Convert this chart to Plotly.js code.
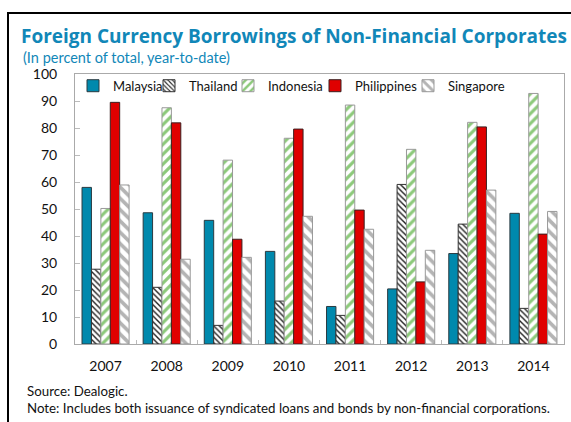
<!DOCTYPE html>
<html>
<head>
<meta charset="utf-8">
<script src="https://cdn.plot.ly/plotly-3.0.1.min.js"></script>
<style>
  html,body{margin:0;padding:0;background:#fff;}
  #chart{width:571px;height:422px;}
  #frame{position:absolute;left:7px;top:12px;width:600px;height:500px;border:2px solid #000;pointer-events:none;}
</style>
</head>
<body>
<div id="chart"></div>
<div id="frame"></div>
<script>
const years = ['2007','2008','2009','2010','2011','2012','2013','2014'];
const malaysia    = [58.0, 48.6, 45.8, 34.3, 13.9, 20.4, 33.5, 48.4];
const thailand    = [27.7, 21.0,  6.9, 15.9, 10.6, 59.1, 44.4, 13.2];
const indonesia   = [50.2, 87.5, 68.1, 76.2, 88.5, 72.1, 82.1, 92.8];
const philippines = [89.5, 81.9, 38.8, 79.6, 49.6, 23.0, 80.4, 40.7];
const singapore   = [58.9, 31.4, 32.1, 47.3, 42.5, 34.7, 57.0, 49.1];
const yTicks = [0,10,20,30,40,50,60,70,80,90,100];

const FONT = 'Lato, "Open Sans", sans-serif';
const TEAL = '#1187b8';

const bar = (name, y, marker, legend) => ({
  type:'bar', name, x:years, y, marker, legend, hoverinfo:'skip'
});

const traces = [
  bar('Malaysia', malaysia,
      {color:'#0089ad', line:{color:'#2a3a40', width:1}}, 'legend'),
  bar('Thailand', thailand,
      {color:'#ffffff', line:{color:'#333', width:1},
       pattern:{shape:'\\', fgcolor:'#222', bgcolor:'#fff', size:4, solidity:0.35}}, 'legend2'),
  bar('Indonesia', indonesia,
      {color:'#ffffff', line:{color:'#999', width:1},
       pattern:{shape:'/', fgcolor:'#8cc97a', bgcolor:'#fff', size:7, solidity:0.45}}, 'legend3'),
  bar('Philippines', philippines,
      {color:'#e00000', line:{color:'#3a2020', width:1}}, 'legend4'),
  bar('Singapore', singapore,
      {color:'#ffffff', line:{color:'#999', width:1},
       pattern:{shape:'\\', fgcolor:'#b4b4b4', bgcolor:'#fff', size:8, solidity:0.45}}, 'legend5')
];

// plot area spans 75..564 px; each legend is placed by its symbol centre
const pxX = px => (px - 75) / 489;
const leg = symCentre => ({
  x:pxX(symCentre - 20), xanchor:'left', y:1.012, yanchor:'top', orientation:'h',
  bgcolor:'rgba(0,0,0,0)', font:{family:FONT, size:13, color:'#111'}
});

const layout = {
  width:571, height:422,
  margin:{l:75, r:7, t:74, b:78},
  paper_bgcolor:'#fff', plot_bgcolor:'#fff',
  font:{family:FONT, size:14, color:'#111'},
  barmode:'group', bargap:0.23, bargroupgap:0,
  title:{text:'<b>Foreign Currency Borrowings of Non-Financial Corporates</b>',
         x:21/571, xanchor:'left', xref:'container',
         y:1-36/422, yanchor:'middle', yref:'container',
         font:{family:'"Open Sans", Lato, sans-serif', size:19, color:TEAL}},
  xaxis:{type:'category', tickson:'boundaries', ticks:'inside', ticklen:4,
         tickcolor:'#bbb', showline:true, linecolor:'#aaa', linewidth:1,
         mirror:true, ticklabelstandoff:9, tickfont:{size:14}},
  yaxis:{range:[0,100], tickvals:yTicks, ticks:'inside', ticklen:5,
         tickcolor:'#bbb', showline:true, linecolor:'#aaa', linewidth:1,
         mirror:true, showgrid:false, zeroline:false, ticklabelstandoff:14,
         tickfont:{size:14}},
  showlegend:true,
  legend:leg(93), legend2:leg(169), legend3:leg(248), legend4:leg(335), legend5:leg(428),
  annotations:[
    {text:'(In percent of total, year-to-date)', xref:'paper', yref:'paper',
     x:pxX(21), y:1+(74-58)/270, xanchor:'left', yanchor:'middle', showarrow:false,
     font:{family:FONT, size:14.5, color:TEAL}},
    {text:'Source: Dealogic.', xref:'paper', yref:'paper',
     x:pxX(25), y:-(391-344)/270, xanchor:'left', yanchor:'middle', showarrow:false,
     font:{family:FONT, size:13.3, color:'#111'}},
    {text:'Note: Includes both issuance of syndicated loans and bonds by non-financial corporations.',
     xref:'paper', yref:'paper',
     x:pxX(25), y:-(408-344)/270, xanchor:'left', yanchor:'middle', showarrow:false,
     font:{family:FONT, size:13.3, color:'#111'}}
  ]
};

Plotly.newPlot('chart', traces, layout, {staticPlot:true, displayModeBar:false});
</script>
</body>
</html>
